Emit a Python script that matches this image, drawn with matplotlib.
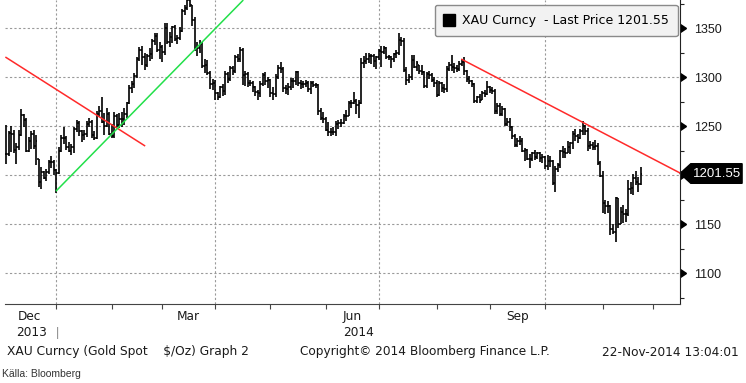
import matplotlib
matplotlib.use("Agg")
import matplotlib.pyplot as plt
from matplotlib.lines import Line2D
from matplotlib.patches import Polygon
import numpy as np
import pandas as pd

plt.rcParams["font.family"] = ["Liberation Sans", "DejaVu Sans"]
TXT = ["DejaVu Sans"]  # closer to Bloomberg's Tahoma widths for the words

# XAU Curncy daily bars, 2013-12-02 .. 2014-11-21
start_date = "2013-12-02"
axis_end_date = "2014-12-15"
holidays = ["2013-12-25", "2014-01-01"]

closes = [
    # Dec 2013
    1221, 1243, 1242, 1226, 1229, 1241, 1261, 1256, 1225, 1235, 1242, 1230, 1235, 1193, 1203, 1197, 1203, 1213, 1213, 1205, 1202,
    # Jan 2014
    1225, 1238, 1238, 1229, 1225, 1229, 1247, 1253, 1245, 1241, 1242, 1252, 1254, 1241, 1238, 1262, 1265, 1254, 1250, 1262, 1242, 1240,
    # Feb
    1260, 1251, 1257, 1257, 1262, 1274, 1289, 1293, 1301, 1318, 1328, 1320, 1312, 1321, 1323, 1337, 1342, 1328, 1331, 1326,
    # Mar
    1350, 1336, 1341, 1351, 1339, 1340, 1347, 1367, 1370, 1379, 1373, 1358, 1330, 1330, 1334, 1311, 1312, 1304, 1293, 1294, 1284,
    # Apr
    1280, 1290, 1286, 1303, 1298, 1309, 1306, 1320, 1318, 1328, 1302, 1303, 1294, 1294, 1290, 1285, 1284, 1293, 1302, 1296, 1297, 1284,
    # May
    1283, 1300, 1309, 1308, 1289, 1288, 1290, 1296, 1296, 1305, 1294, 1293, 1293, 1294, 1288, 1294, 1292, 1292, 1265, 1258, 1257, 1246,
    # Jun
    1244, 1244, 1244, 1252, 1253, 1253, 1260, 1260, 1273, 1274, 1276, 1271, 1273, 1314, 1316, 1318, 1321, 1321, 1316, 1320, 1327,
    # Jul
    1326, 1330, 1320, 1320, 1318, 1324, 1325, 1338, 1337, 1307, 1297, 1300, 1317, 1310, 1314, 1306, 1305, 1291, 1303, 1302, 1297, 1294, 1282,
    # Aug
    1294, 1289, 1288, 1308, 1312, 1310, 1309, 1308, 1313, 1315, 1306, 1298, 1296, 1293, 1276, 1280, 1277, 1284, 1283, 1290, 1287,
    # Sep
    1286, 1265, 1270, 1262, 1267, 1252, 1254, 1249, 1240, 1231, 1235, 1235, 1225, 1226, 1216, 1216, 1222, 1218, 1222, 1217, 1218, 1209,
    # Oct
    1214, 1214, 1192, 1206, 1210, 1225, 1224, 1222, 1229, 1233, 1242, 1240, 1238, 1245, 1250, 1245, 1230, 1231, 1229, 1230, 1212, 1199, 1171,
    # Nov
    1168, 1168, 1145, 1142, 1177, 1150, 1162, 1160, 1160, 1186, 1187, 1197, 1193, 1191, 1201.55,
]

highs = [
    1251, 1245, 1250, 1246, 1233, 1246, 1267, 1262, 1258, 1239, 1245, 1246, 1241, 1216, 1208, 1204, 1206, 1215, 1219, 1215, 1206,
    1229, 1241, 1249, 1240, 1234, 1232, 1249, 1256, 1255, 1246, 1246, 1255, 1258, 1256, 1245, 1265, 1270, 1280, 1263, 1268, 1264, 1252,
    1264, 1262, 1263, 1264, 1268, 1275, 1292, 1296, 1304, 1320, 1331, 1332, 1325, 1324, 1330, 1339, 1345, 1345, 1336, 1333,
    1355, 1355, 1346, 1352, 1353, 1343, 1351, 1369, 1373, 1382, 1392, 1374, 1361, 1336, 1338, 1336, 1318, 1317, 1306, 1298, 1297,
    1285, 1291, 1293, 1306, 1305, 1311, 1311, 1322, 1324, 1331, 1330, 1306, 1305, 1297, 1296, 1291, 1287, 1296, 1304, 1305, 1300, 1298,
    1290, 1303, 1312, 1315, 1310, 1292, 1294, 1299, 1299, 1306, 1306, 1297, 1296, 1297, 1296, 1296, 1296, 1294, 1293, 1268, 1264, 1259,
    1254, 1248, 1249, 1255, 1256, 1257, 1262, 1266, 1276, 1277, 1285, 1278, 1277, 1319, 1321, 1325, 1325, 1324, 1324, 1321, 1329,
    1332, 1332, 1331, 1322, 1321, 1325, 1328, 1345, 1341, 1340, 1310, 1303, 1322, 1322, 1316, 1312, 1312, 1306, 1305, 1306, 1304, 1300, 1297,
    1296, 1295, 1293, 1311, 1315, 1322, 1314, 1312, 1316, 1318, 1320, 1307, 1301, 1297, 1294, 1281, 1283, 1286, 1287, 1296, 1291,
    1290, 1288, 1273, 1274, 1270, 1268, 1258, 1258, 1250, 1242, 1238, 1240, 1238, 1228, 1227, 1221, 1224, 1226, 1224, 1223, 1221, 1219,
    1220, 1219, 1215, 1209, 1212, 1226, 1230, 1228, 1235, 1234, 1245, 1247, 1242, 1247, 1255, 1251, 1248, 1235, 1234, 1236, 1233, 1214, 1204,
    1175, 1173, 1169, 1150, 1178, 1177, 1167, 1169, 1165, 1195, 1193, 1201, 1204, 1198, 1208,
]

lows = [
    1211, 1219, 1224, 1222, 1211, 1226, 1240, 1249, 1223, 1223, 1227, 1227, 1210, 1188, 1186, 1196, 1194, 1201, 1207, 1200, 1182,
    1201, 1223, 1232, 1226, 1223, 1220, 1222, 1244, 1240, 1234, 1236, 1239, 1249, 1238, 1236, 1237, 1259, 1253, 1241, 1249, 1241, 1238,
    1238, 1249, 1248, 1249, 1251, 1258, 1272, 1284, 1289, 1299, 1316, 1312, 1307, 1310, 1316, 1318, 1333, 1326, 1318, 1315,
    1322, 1334, 1331, 1335, 1337, 1334, 1338, 1346, 1363, 1368, 1371, 1352, 1327, 1321, 1325, 1309, 1304, 1302, 1288, 1287, 1277,
    1277, 1279, 1281, 1282, 1294, 1296, 1302, 1304, 1315, 1315, 1292, 1291, 1290, 1291, 1285, 1281, 1277, 1280, 1291, 1292, 1289, 1280,
    1277, 1280, 1298, 1304, 1285, 1283, 1282, 1287, 1289, 1292, 1291, 1288, 1289, 1290, 1285, 1283, 1290, 1289, 1261, 1256, 1253, 1245,
    1240, 1240, 1241, 1240, 1247, 1249, 1252, 1255, 1260, 1268, 1272, 1262, 1258, 1272, 1309, 1313, 1314, 1313, 1310, 1308, 1317,
    1310, 1323, 1318, 1317, 1309, 1315, 1319, 1322, 1332, 1305, 1292, 1294, 1297, 1309, 1306, 1303, 1302, 1289, 1289, 1298, 1295, 1290, 1280,
    1281, 1285, 1284, 1285, 1306, 1306, 1304, 1305, 1306, 1311, 1302, 1295, 1293, 1290, 1273, 1273, 1273, 1277, 1280, 1282, 1284,
    1283, 1262, 1262, 1260, 1260, 1250, 1250, 1245, 1237, 1229, 1229, 1231, 1223, 1214, 1215, 1207, 1214, 1215, 1216, 1213, 1212, 1206,
    1205, 1208, 1190, 1183, 1203, 1207, 1217, 1217, 1222, 1221, 1227, 1235, 1233, 1237, 1241, 1241, 1225, 1227, 1226, 1226, 1210, 1198, 1161,
    1160, 1161, 1139, 1140, 1132, 1146, 1150, 1151, 1152, 1158, 1181, 1180, 1190, 1183, 1190,
]

last_price = 1201.55

# hand-drawn trend lines: (date, price) end points
red_line_1 = [("2013-12-02", 1320), ("2014-02-19", 1230)]
green_line = [("2013-12-31", 1184), ("2014-04-15", 1378)]
red_line_2 = [("2014-08-14", 1318), ("2014-12-15", 1201.55)]

y_ticks = [1100, 1150, 1200, 1250, 1300, 1350]
y_tick_labels = ["1100", "1150", "", "1250", "1300", "1350"]  # 1200 sits under the price tag
y_minor = [1075, 1125, 1175, 1225, 1275, 1325, 1375]
quarter_months = ["2013-12", "2014-03", "2014-06", "2014-09"]
quarter_labels = ["Dec", "Mar", "Jun", "Sep"]
year_labels = ["2013", "2014"]
year_label_dates = ["2013-12-16", "2014-06-18"]

# trading-day axis (Bloomberg draws bars without weekend gaps)
days = pd.bdate_range(start_date, axis_end_date)
days = days[~days.isin(pd.to_datetime(holidays))]
idx = pd.Series(np.arange(len(days)), index=days)
month_key = days.to_period("M")
month_end = idx.groupby(month_key).max().iloc[:-1]


def pos(d):
    return idx[pd.Timestamp(d)]


fig = plt.figure(figsize=(7.46, 3.83), dpi=100)
ax = fig.add_axes([5 / 746, 79 / 383, 675 / 746, 304 / 383])

x = np.arange(len(closes))
c = np.array(closes, dtype=float)
h = np.array(highs, dtype=float)
l = np.array(lows, dtype=float)
o = np.clip(np.r_[c[0], c[:-1]], l, h)

ax.vlines(x, l, h, color="black", lw=1.2)
ax.hlines(c, x, x + 0.5, color="black", lw=1.1)
ax.hlines(o, x - 0.5, x, color="black", lw=1.1)

for line, col in [(red_line_1, "#ff2a2a"), (green_line, "#22e04a"), (red_line_2, "#ff2a2a")]:
    ax.plot([pos(d) for d, _ in line], [p for _, p in line], color=col, lw=1.1)

ax.set_xlim(-0.4, 267.6)
ax.set_ylim(1068.4, 1378.6)

# grid
for q in quarter_months:
    ax.axvline(month_end[pd.Period(q)], color="#9a9a9a", lw=0.8, ls=(0, (2, 2)), zorder=0)
ax.set_yticks(y_ticks)
ax.set_yticklabels(y_tick_labels)
ax.set_yticks(y_minor, minor=True)
ax.yaxis.grid(True, which="major", color="#9a9a9a", lw=0.8, ls=(0, (2, 2)), zorder=0)

# spines
for s in ["top", "left"]:
    ax.spines[s].set_visible(False)
ax.spines["bottom"].set_color("#444444")
ax.spines["right"].set_color("#222222")

# right price axis
ax.yaxis.tick_right()
ax.tick_params(axis="y", which="major", length=0, pad=10, labelsize=9, labelcolor="#1a1a1a")
ax.tick_params(axis="y", which="minor", length=3, width=0.8, color="#222222")
ax.plot(np.ones(len(y_ticks)), y_ticks, ls="none", marker=9, ms=6, color="black",
        transform=ax.get_yaxis_transform(), clip_on=False)

# last price tag
tr = ax.get_yaxis_transform()
tag = Polygon([(1.0, last_price), (1.016, last_price + 10), (1.092, last_price + 10),
               (1.092, last_price - 10), (1.016, last_price - 10)],
              closed=True, transform=tr, facecolor="black", edgecolor="black", clip_on=False)
ax.add_patch(tag)
ax.text(1.055, last_price, f"{last_price:.2f}", transform=tr, color="white", fontsize=9.5,
        ha="center", va="center", clip_on=False)

# bottom time axis
ax.set_xticks(month_end.values)
ax.set_xticklabels([])
ax.tick_params(axis="x", which="major", length=3.5, width=0.8, color="#444444", direction="out")
centers = []
for q in quarter_months:
    p = pd.Period(q)
    prev_end = month_end[p - 1] if (p - 1) in month_end.index else -1
    centers.append((prev_end + month_end[p]) / 2)
ax.set_xticks(centers, minor=True)
ax.set_xticklabels(quarter_labels, minor=True, family=TXT)
ax.tick_params(axis="x", which="minor", length=0, pad=4, labelsize=8.7, labelcolor="#1a1a1a")

xtr = ax.get_xaxis_transform()
for lab, d in zip(year_labels, year_label_dates):
    ax.text(pos(d), -0.095, lab, transform=xtr, ha="center", va="center", fontsize=8.7,
            color="#1a1a1a", family=TXT)
ax.text(month_end[pd.Period("2013-12")] + 0.4, -0.095, "|", transform=xtr, ha="center", va="center",
        fontsize=9, color="#888888")

# legend
handle = Line2D([], [], ls="none", marker="s", ms=8, color="black")
ax.legend([handle], ["XAU Curncy  - Last Price 1201.55"], loc="upper right",
          bbox_to_anchor=(0.997, 0.985), borderaxespad=0, fancybox=True, framealpha=1,
          facecolor="#f2f2f2", edgecolor="#8a8a8a", prop={"family": TXT, "size": 9},
          handlelength=0.8, handletextpad=0.6, borderpad=0.75)

# footer
fy = 1 - 352 / 383
fig.text(7 / 746, fy, "XAU Curncy (Gold Spot    $/Oz) Graph 2", fontsize=8.8, va="center",
         color="#1a1a1a", family=TXT)
fig.text(300 / 746, fy, "Copyright\u00a9 2014 Bloomberg Finance L.P.", fontsize=8.7, va="center",
         color="#1a1a1a", family=TXT)
fig.text(739 / 746, fy, "22-Nov-2014 13:04:01", fontsize=8.7, va="center", ha="right",
         color="#1a1a1a", family=TXT)
fig.text(2 / 746, 1 - 374 / 383, "Källa: Bloomberg", fontsize=7.5, va="center", color="#333333",
         family=["Liberation Sans Narrow", "Liberation Sans", "DejaVu Sans"])

fig.savefig("out.png", dpi=100)
